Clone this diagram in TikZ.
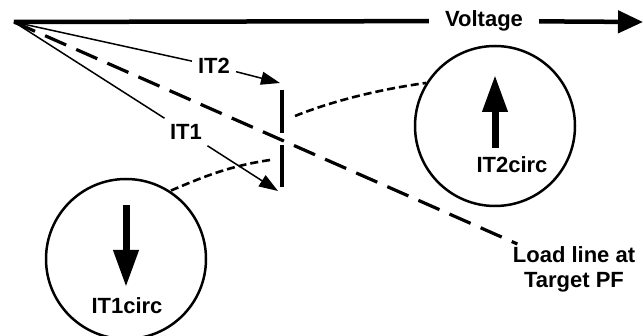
\documentclass[tikz,border=0pt]{standalone}
\usepackage{fontspec}
\setmainfont{Liberation Sans}
\usetikzlibrary{arrows.meta}

\begin{document}
\begin{tikzpicture}[
  x=1pt,
  y=-1pt,
  >=Latex,
  lab/.style={font=\fontsize{22}{25}\selectfont\bfseries, inner sep=6pt},
  axisline/.style={line width=4.5pt},
  thinline/.style={line width=1.5pt},
  thinarrow/.style={line width=1.5pt, -{Triangle[width=13pt,length=19pt]}},
  loadline/.style={line width=3.2pt, dash pattern=on 23pt off 11pt},
  linkcurve/.style={line width=2.6pt, dash pattern=on 8pt off 4pt},
  phasebar/.style={line width=4.2pt},
  circ/.style={draw, circle, line width=2.5pt, minimum size=160pt, inner sep=0pt},
  bigarrow/.style={line width=7pt, -{Triangle[width=24pt,length=37pt]}}
]
  \useasboundingbox (0,0) rectangle (643,336);

  % Voltage axis, broken by its label.
  \coordinate (origin) at (14,22);
  \coordinate (vtip) at (643,22);
  \node[lab, inner xsep=16pt, inner ysep=2pt] (voltlab) at (484,21) {Voltage};
  \draw[axisline] (origin) -- (voltlab);
  \draw[axisline, -{Triangle[width=22pt,length=25pt]}] (voltlab) -- (vtip);

  % Current phasors and the load line.
  \node[lab] (it2lab) at (214,66) {IT2};
  \node[lab] (it1lab) at (186,132) {IT1};
  \node[lab, align=center, inner sep=2pt] (loadlab) at (574,269) {Load line at\\Target PF};
  \coordinate (it2tip) at (280,83);
  \coordinate (it1tip) at (278,191);
  \draw[thinline] (origin) -- (it2lab);
  \draw[thinarrow] (it2lab) -- (it2tip);
  \draw[thinline] (origin) -- (it1lab);
  \draw[thinarrow] (it1lab) -- (it1tip);
  \draw[loadline] (origin) -- (loadlab);

  % Range of the phasor ends.
  \draw[phasebar] (282,90) -- (282,133);
  \draw[phasebar] (282,145) -- (282,187);

  % Circulating currents.
  \node[circ] (it2circ) at (495,126) {};
  \node[circ] (it1circ) at (126,259) {};
  \coordinate (it2base) at (495,148);
  \coordinate (it2head) at (495,75);
  \coordinate (it1base) at (126,205);
  \coordinate (it1head) at (126,287);
  \draw[bigarrow] (it2base) -- (it2head);
  \draw[bigarrow] (it1base) -- (it1head);
  \node[lab, inner sep=0pt] (it2name) at (512,165) {IT2circ};
  \node[lab, inner sep=0pt] (it1name) at (127,306) {IT1circ};

  % Links from the bar to each circle.
  \coordinate (bartop) at (295,116);
  \coordinate (barbot) at (270,160);
  \draw[linkcurve] (bartop) .. controls (335,100) and (382,89) .. (it2circ.148);
  \draw[linkcurve] (barbot) .. controls (230,166) and (205,176) .. (it1circ.57);
\end{tikzpicture}
\end{document}
